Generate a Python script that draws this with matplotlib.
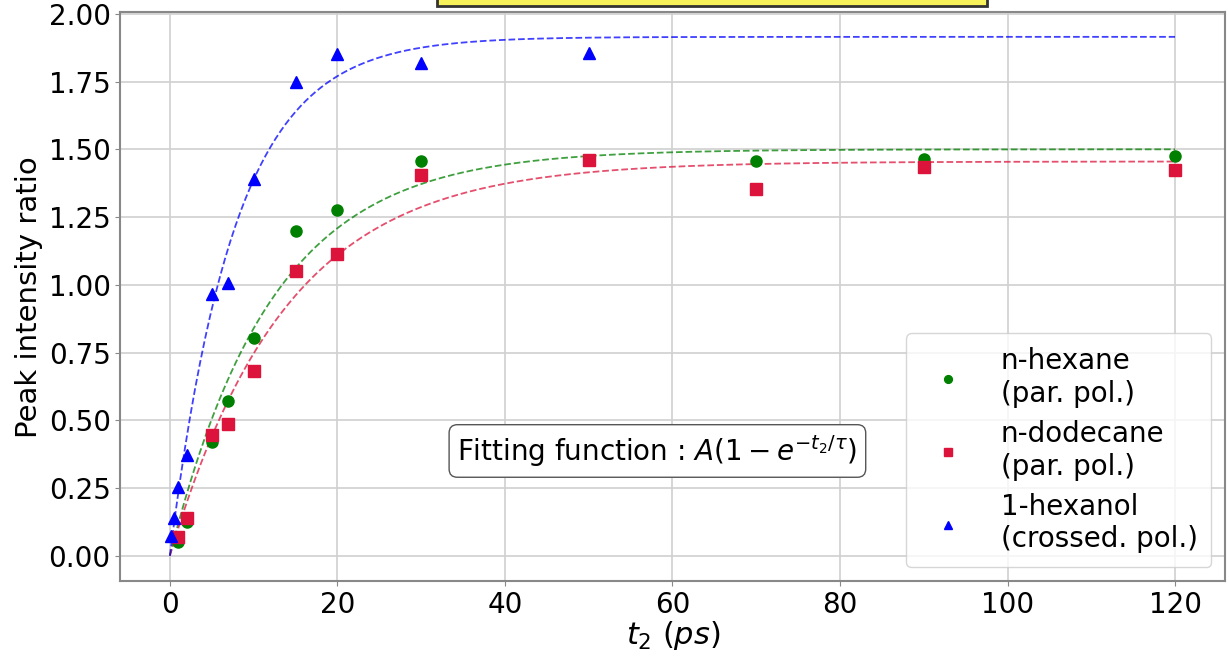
import numpy as np
import matplotlib
matplotlib.use("Agg")
import matplotlib.pyplot as plt
from matplotlib.patches import Rectangle

t_hex = [1, 2, 5, 7, 10, 15, 20, 30, 70, 90, 120]
y_hex = [0.05, 0.125, 0.42, 0.57, 0.805, 1.20, 1.275, 1.455, 1.455, 1.465, 1.475]

t_dod = [1, 2, 5, 7, 10, 15, 20, 30, 50, 70, 90, 120]
y_dod = [0.07, 0.14, 0.445, 0.485, 0.68, 1.05, 1.115, 1.405, 1.46, 1.355, 1.435, 1.425]

t_hol = [0.1, 0.5, 1, 2, 5, 7, 10, 15, 20, 30, 50]
y_hol = [0.074, 0.14, 0.255, 0.37, 0.965, 1.005, 1.39, 1.75, 1.85, 1.82, 1.855]

# fit parameters (A, tau)
fit_hex = (1.50, 12.2)
fit_dod = (1.455, 13.9)
fit_hol = (1.915, 7.75)

labels = ["n-hexane\n(par. pol.)", "n-dodecane\n(par. pol.)", "1-hexanol\n(crossed. pol.)"]


def model(t, A, tau):
    return A * (1 - np.exp(-t / tau))


fig = plt.figure(figsize=(12.29, 6.56), dpi=100)
ax = fig.add_axes([0.098, 0.114, 0.899, 0.867])

tt = np.linspace(0, 120, 400)
ax.plot(t_hex, y_hex, 'o', color='green', ms=8, label=labels[0], zorder=3)
ax.plot(t_dod, y_dod, 's', color='crimson', ms=8, label=labels[1], zorder=3)
ax.plot(t_hol, y_hol, '^', color='blue', ms=8, label=labels[2], zorder=3)
ax.plot(tt, model(tt, *fit_hex), '--', color='green', alpha=0.75, lw=1.3)
ax.plot(tt, model(tt, *fit_dod), '--', color='crimson', alpha=0.75, lw=1.3)
ax.plot(tt, model(tt, *fit_hol), '--', color='blue', alpha=0.75, lw=1.3)

ax.set_xlim(-5.9, 126)
ax.set_ylim(-0.094, 2.005)
ax.set_yticks(np.arange(0, 2.01, 0.25))
ax.set_xticks(np.arange(0, 121, 20))
ax.grid(True, color='#d0d0d0', lw=1.2)
ax.set_axisbelow(True)
for s in ax.spines.values():
    s.set_color('#888888')
    s.set_linewidth(1.5)
ax.tick_params(labelsize=20, color='#888888')
ax.set_xlabel(r'$t_2$ $(ps)$', fontsize=22, labelpad=0)
ax.set_ylabel('Peak intensity ratio', fontsize=21, labelpad=4)

ax.text(0.486, 0.229, r'Fitting function : $A(1-e^{-t_2/\tau})$', transform=ax.transAxes,
        ha='center', va='center', fontsize=20,
        bbox=dict(boxstyle='round,pad=0.3', fc='white', ec='#555555'))

ax.legend(loc='lower right', fontsize=20, markerscale=0.7, borderpad=0.5,
          labelspacing=0.45, handletextpad=0.9, borderaxespad=0.5, framealpha=0.8)

# bottom edge of the (cropped) yellow title box
fig.patches.append(Rectangle((437 / 1229, 1 - 6 / 656), 550 / 1229, 0.05,
                             transform=fig.transFigure, fc='#f7f25a', ec='#333333', lw=2))

fig.savefig('out.png', dpi=100)
